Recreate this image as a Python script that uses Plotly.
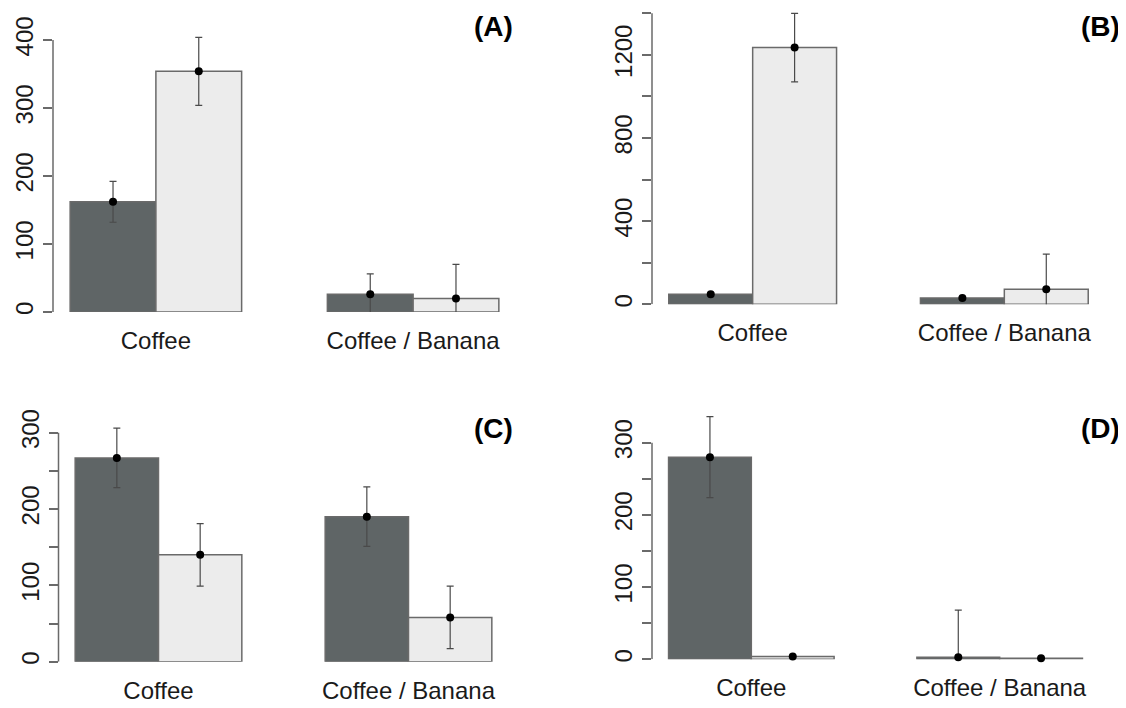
import plotly.graph_objects as go
import numpy as np

# ---------------- data ----------------
categories = ["Coffee", "Coffee / Banana"]
panel_labels = ["(A)", "(B)", "(C)", "(D)"]

a_dark = [162, 26]
a_dark_se = [30, 30]
a_light = [354, 20]
a_light_se = [50, 50]

b_dark = [48, 30]
b_dark_se = [6, 5]
b_light = [1235, 73]
b_light_se = [165, 168]

c_dark = [267, 190]
c_dark_se = [39, 39]
c_light = [140, 58]
c_light_se = [41, 41]

d_dark = [280, 3]
d_dark_se = [56, 65]
d_light = [4, 1.5]
d_light_se = [1.5, 1]

a_ticks = [0, 100, 200, 300, 400]
a_ticklabels = ["0", "100", "200", "300", "400"]
b_ticks = [0, 200, 400, 600, 800, 1000, 1200, 1400]
b_ticklabels = ["0", "", "400", "", "800", "", "1200", ""]
c_ticks = [0, 50, 100, 150, 200, 250, 300]
c_ticklabels = ["0", "", "100", "", "200", "", "300"]
d_ticks = [0, 50, 100, 150, 200, 250, 300]
d_ticklabels = ["0", "", "100", "", "200", "", "300"]

# ---------------- layout constants (pixels, screenshot frame) ----------------
W, H = 1126, 708
OFF = 8  # default page body margin
FONT = "Liberation Sans, Arial, Helvetica, sans-serif"
DARK = "#5f6566"
LIGHT = "#ececec"
EDGE = "#6a6a6a"
AXIS = "#6a6a6a"

panels = [
    dict(dark=a_dark, dse=a_dark_se, light=a_light, lse=a_light_se,
         ticks=a_ticks, labels=a_ticklabels, x0=53, x1=516, zero=312, tmax=40),
    dict(dark=b_dark, dse=b_dark_se, light=b_light, lse=b_light_se,
         ticks=b_ticks, labels=b_ticklabels, x0=652, x1=1105, zero=304.3, tmax=13.3),
    dict(dark=c_dark, dse=c_dark_se, light=c_light, lse=c_light_se,
         ticks=c_ticks, labels=c_ticklabels, x0=58.5, x1=508.5, zero=661.7, tmax=432.7),
    dict(dark=d_dark, dse=d_dark_se, light=d_light, lse=d_light_se,
         ticks=d_ticks, labels=d_ticklabels, x0=652, x1=1099, zero=659.3, tmax=442.7),
]


def px_x(x):
    return (x - OFF) / W


def px_y(y):
    return 1 - (y - OFF) / H


fig = go.Figure()
layout = dict()
shapes = []

for i, p in enumerate(panels):
    n = "" if i == 0 else str(i + 1)
    xa, ya = "x" + n, "y" + n
    T = p["ticks"][-1]
    tops = [v + s for v, s in zip(p["dark"] + p["light"], p["dse"] + p["lse"])]
    rtop = max(T, max(tops)) * 1.03
    scale = (p["zero"] - p["tmax"]) / T
    top_px = max(p["zero"] - scale * rtop, OFF + 1)
    rtop = (p["zero"] - top_px) / scale

    for vals, se, col, grp in [(p["dark"], p["dse"], DARK, "dark"),
                               (p["light"], p["lse"], LIGHT, "light")]:
        fig.add_trace(go.Bar(
            x=categories, y=vals, xaxis=xa, yaxis=ya, offsetgroup=grp,
            marker=dict(color=col, line=dict(color=EDGE, width=1.5)),
            error_y=dict(type="data", array=se, color="#4a4a4a",
                         thickness=1.2, width=3.5),
            showlegend=False, hoverinfo="skip",
        ))
    for vals, grp in [(p["dark"], "dark"), (p["light"], "light")]:
        fig.add_trace(go.Scatter(
            x=categories, y=vals, xaxis=xa, yaxis=ya, mode="markers",
            offsetgroup=grp, cliponaxis=False,
            marker=dict(color="black", size=8),
            showlegend=False, hoverinfo="skip",
        ))
    layout["xaxis" + n] = dict(
        domain=[px_x(p["x0"]), px_x(p["x1"])], anchor=ya,
        range=[-0.4, 1.4], showline=False, showgrid=False, zeroline=False,
        ticks="", tickfont=dict(family=FONT, size=24, color="#1a1a1a"),
        ticklabelstandoff=12, fixedrange=True, automargin=False,
    )
    layout["yaxis" + n] = dict(
        domain=[px_y(p["zero"]), px_y(top_px)], anchor=xa,
        range=[0, rtop], showline=False,
        showgrid=False, zeroline=False,
        tickmode="array", tickvals=p["ticks"], ticktext=p["labels"],
        ticks="outside", ticklen=9, tickwidth=1.5, tickcolor=AXIS,
        tickangle=-90, tickfont=dict(family=FONT, size=24, color="#1a1a1a"),
        ticklabelstandoff=0, fixedrange=True, automargin=False,
    )
    # R-style axis line spanning only the tick range
    shapes.append(dict(
        type="line", xref=xa + " domain", yref=ya, x0=0, x1=0,
        y0=p["ticks"][0], y1=T, line=dict(color=AXIS, width=1.5), layer="above",
    ))

annotations = []
label_pos = [(515, 26), (1122, 26), (515, 428), (1122, 428)]
for lab, (lx, ly) in zip(panel_labels, label_pos):
    annotations.append(dict(
        text="<b>%s</b>" % lab, x=px_x(lx), y=px_y(ly), xref="paper", yref="paper",
        xanchor="right", yanchor="middle", showarrow=False,
        font=dict(family=FONT, size=28, color="black"),
    ))

fig.update_layout(
    template="none",
    width=W, height=H, margin=dict(l=0, r=0, t=0, b=0, pad=0),
    paper_bgcolor="white", plot_bgcolor="white", showlegend=False,
    barmode="group", bargap=1 / 3, bargroupgap=0,
    scattermode="group", scattergap=1 / 3,
    annotations=annotations, shapes=shapes, **layout,
)

fig.write_html("out.html")
